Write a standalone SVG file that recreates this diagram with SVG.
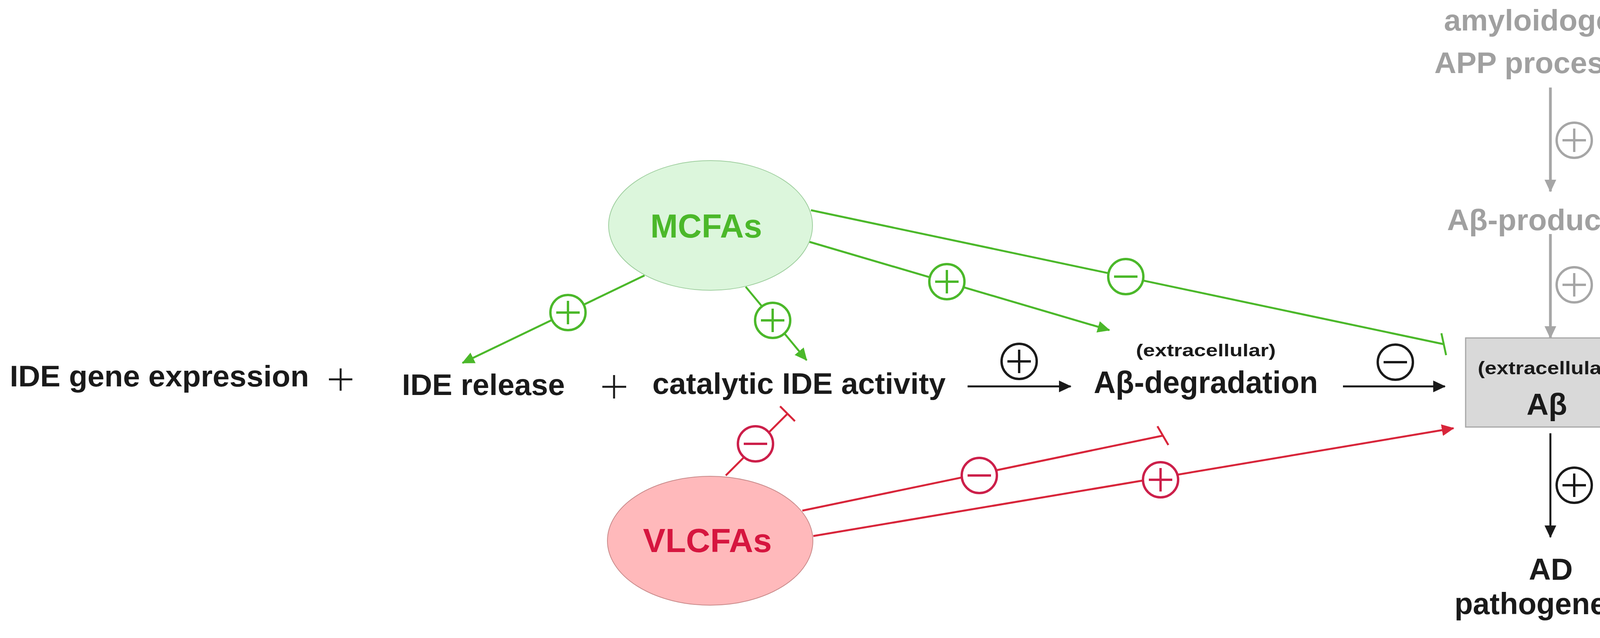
<svg xmlns="http://www.w3.org/2000/svg" width="4289" height="1633" viewBox="0 0 4289 1633">
<style>
text{font-family:"Liberation Sans",Arial,sans-serif;font-weight:bold}
.blk{fill:#1a1a1a}
.gry{fill:#a0a0a0}
.g{stroke:#4bb82a;fill:none;stroke-width:5}
.r{stroke:#d8253a;fill:none;stroke-width:5}
.k{stroke:#1a1a1a;fill:none;stroke-width:5}
.gy{stroke:#a6a6a6;fill:none;stroke-width:7}
.sg{stroke:#4bb82a;fill:#fff;stroke-width:6}
.sr{stroke:#cc1f4a;fill:#fff;stroke-width:6}
.sk{stroke:#1a1a1a;fill:#fff;stroke-width:6}
.sgy{stroke:#a6a6a6;fill:#fff;stroke-width:6}
</style>
<defs>
<marker id="ag" markerUnits="userSpaceOnUse" markerWidth="34" markerHeight="30" refX="30" refY="15" orient="auto"><path d="M0,0 L32,15 L0,30 Z" fill="#4bb82a"/></marker>
<marker id="ar" markerUnits="userSpaceOnUse" markerWidth="34" markerHeight="30" refX="30" refY="15" orient="auto"><path d="M0,0 L32,15 L0,30 Z" fill="#d8253a"/></marker>
<marker id="ak" markerUnits="userSpaceOnUse" markerWidth="34" markerHeight="30" refX="30" refY="15" orient="auto"><path d="M0,0 L32,15 L0,30 Z" fill="#1a1a1a"/></marker>
<marker id="agy" markerUnits="userSpaceOnUse" markerWidth="34" markerHeight="30" refX="30" refY="15" orient="auto"><path d="M0,0 L32,15 L0,30 Z" fill="#a6a6a6"/></marker>
</defs>

<g id="connectors">
<line class="g" x1="1650" y1="705" x2="1184" y2="929" marker-end="url(#ag)"/>
<line class="g" x1="1909" y1="734" x2="2065" y2="922" marker-end="url(#ag)"/>
<line class="g" x1="2072" y1="619" x2="2840" y2="845" marker-end="url(#ag)"/>
<line class="g" x1="2076" y1="538" x2="3696" y2="881"/>
<line class="g" x1="3690" y1="853" x2="3702" y2="909"/>
<line class="r" x1="1858" y1="1217" x2="2016" y2="1059"/>
<line class="r" x1="1997" y1="1040" x2="2035" y2="1078"/>
<line class="r" x1="2054" y1="1307" x2="2977" y2="1115"/>
<line class="r" x1="2963" y1="1091" x2="2991" y2="1139"/>
<line class="r" x1="2082" y1="1372" x2="3721" y2="1096" marker-end="url(#ar)"/>
<line class="k" x1="2477" y1="989" x2="2741" y2="989" marker-end="url(#ak)"/>
<line class="k" x1="3438" y1="989" x2="3699" y2="989" marker-end="url(#ak)"/>
<line class="k" x1="3969" y1="1109" x2="3969" y2="1375" marker-end="url(#ak)"/>
<line class="gy" x1="3969" y1="224" x2="3969" y2="490" marker-end="url(#agy)"/>
<line class="gy" x1="3969" y1="599" x2="3969" y2="865" marker-end="url(#agy)"/>
</g>

<g id="signs">
<g class="sg"><circle cx="1454" cy="800" r="45"/><path d="M1424,800H1484M1454,770V830"/></g>
<g class="sg"><circle cx="1978" cy="820" r="45"/><path d="M1948,820H2008M1978,790V850"/></g>
<g class="sg"><circle cx="2424" cy="721" r="45"/><path d="M2394,721H2454M2424,691V751"/></g>
<g class="sg"><circle cx="2882" cy="708" r="45"/><path d="M2852,708H2912"/></g>
<g class="sr"><circle cx="1934" cy="1136" r="45"/><path d="M1904,1136H1964"/></g>
<g class="sr"><circle cx="2507" cy="1217" r="45"/><path d="M2477,1217H2537"/></g>
<g class="sr"><circle cx="2971" cy="1228" r="45"/><path d="M2941,1228H3001M2971,1198V1258"/></g>
<g class="sk"><circle cx="2609" cy="925" r="45"/><path d="M2579,925H2639M2609,895V955"/></g>
<g class="sk"><circle cx="3572" cy="927" r="45"/><path d="M3542,927H3602"/></g>
<g class="sk"><circle cx="4030" cy="1242" r="45"/><path d="M4000,1242H4060M4030,1212V1272"/></g>
<g class="sgy"><circle cx="4030" cy="359" r="45"/><path d="M4000,359H4060M4030,329V389"/></g>
<g class="sgy"><circle cx="4030" cy="729" r="45"/><path d="M4000,729H4060M4030,699V759"/></g>
</g>

<g id="mcfas">
<ellipse cx="1819" cy="577" rx="261" ry="166" fill="#dcf6dc" stroke="#9fcf9f" stroke-width="2"/>
<text x="1808" y="608" text-anchor="middle" font-size="86" fill="#4bb82a" textLength="286" lengthAdjust="spacingAndGlyphs">MCFAs</text>
</g>
<g id="vlcfas">
<ellipse cx="1818" cy="1384" rx="263" ry="165" fill="#ffb9bb" stroke="#c98a8a" stroke-width="2"/>
<text x="1811" y="1413" text-anchor="middle" font-size="86" fill="#d6163f" textLength="330" lengthAdjust="spacingAndGlyphs">VLCFAs</text>
</g>
<g id="ide-gene"><text class="blk" x="25" y="989" font-size="76" textLength="766" lengthAdjust="spacingAndGlyphs">IDE gene expression</text></g>
<g id="plus1"><path d="M842,971H902M872,943V1000" stroke="#1a1a1a" stroke-width="5"/></g>
<g id="ide-release"><text class="blk" x="1029" y="1011" font-size="76" textLength="417" lengthAdjust="spacingAndGlyphs">IDE release</text></g>
<g id="plus2"><path d="M1542,990H1603M1572,960V1020" stroke="#1a1a1a" stroke-width="5"/></g>
<g id="catalytic"><text class="blk" x="1670" y="1008" font-size="76" textLength="751" lengthAdjust="spacingAndGlyphs">catalytic IDE activity</text></g>
<g id="degradation">
<text class="blk" x="2908" y="912" font-size="44" textLength="358" lengthAdjust="spacingAndGlyphs">(extracellular)</text>
<text class="blk" x="2800" y="1006" font-size="80" textLength="574" lengthAdjust="spacingAndGlyphs">Aβ-degradation</text>
</g>
<g id="abeta">
<rect x="3752" y="865" width="445" height="228" fill="#d9d9d9" stroke="#a6a6a6" stroke-width="3"/>
<text class="blk" x="3783" y="958" font-size="46" textLength="356" lengthAdjust="spacingAndGlyphs">(extracellular)</text>
<text class="blk" x="3960" y="1062" font-size="78" text-anchor="middle">Aβ</text>
</g>
<g id="app">
<text class="gry" x="3969" y="78" font-size="76" text-anchor="middle" textLength="545" lengthAdjust="spacingAndGlyphs">amyloidogenic</text>
<text class="gry" x="3969" y="187" font-size="76" text-anchor="middle" textLength="594" lengthAdjust="spacingAndGlyphs">APP processing</text>
</g>
<g id="production"><text class="gry" x="3973" y="589" font-size="76" text-anchor="middle" textLength="537" lengthAdjust="spacingAndGlyphs">Aβ-production</text></g>
<g id="ad">
<text class="blk" x="3970" y="1484" font-size="78" text-anchor="middle">AD</text>
<text class="blk" x="3972" y="1572" font-size="78" text-anchor="middle" textLength="497" lengthAdjust="spacingAndGlyphs">pathogenesis</text>
</g>
</svg>
